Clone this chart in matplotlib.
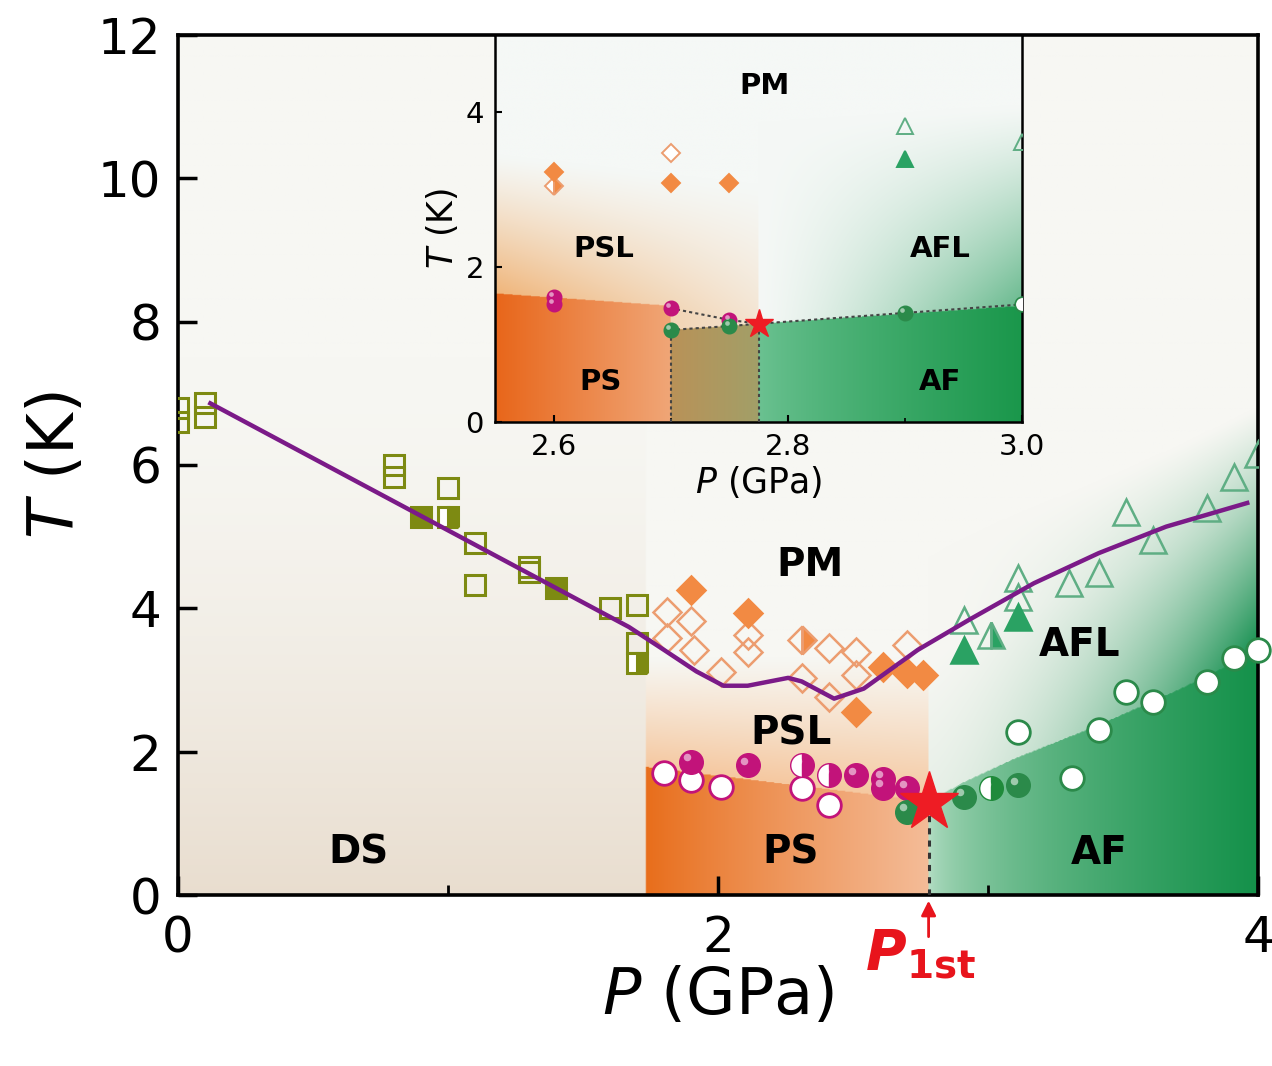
import numpy as np
import matplotlib
matplotlib.use('Agg')
import matplotlib.pyplot as plt
from matplotlib.colors import to_rgb
from matplotlib.transforms import offset_copy

plt.rcParams['font.family'] = ['DejaVu Sans']
plt.rcParams['mathtext.fontset'] = 'dejavusans'

# ---------------- data (main panel) ----------------
ds_open_P = [0.0, 0.0, 0.10, 0.10, 0.80, 0.80, 1.00, 1.10, 1.10, 1.30, 1.30, 1.60, 1.70, 1.70]
ds_open_T = [6.80, 6.60, 6.86, 6.67, 6.00, 5.83, 5.68, 4.91, 4.33, 4.58, 4.50, 4.00, 4.05, 3.52]
ds_full_P = [0.90, 1.40]
ds_full_T = [5.27, 4.28]
ds_half_P = [1.00, 1.70]
ds_half_T = [5.27, 3.24]

dia_open_P = [1.81, 1.90, 1.81, 1.91, 2.01, 2.11, 2.11, 2.41, 2.31, 2.51, 2.41, 2.51, 2.70]
dia_open_T = [3.95, 3.83, 3.58, 3.42, 3.11, 3.63, 3.39, 3.45, 3.03, 3.39, 2.76, 3.07, 3.49]
dia_full_P = [1.90, 2.11, 2.51, 2.61, 2.70, 2.76]
dia_full_T = [4.26, 3.93, 2.55, 3.18, 3.10, 3.07]
dia_half_P = [2.31]
dia_half_T = [3.56]

pk_full_P = [1.90, 2.11, 2.51, 2.61, 2.61, 2.70]
pk_full_T = [1.86, 1.81, 1.67, 1.62, 1.50, 1.49]
pk_open_P = [1.80, 1.90, 2.01, 2.31, 2.41]
pk_open_T = [1.70, 1.60, 1.51, 1.49, 1.26]
pk_half_P = [2.31, 2.41]
pk_half_T = [1.81, 1.67]

gr_full_P = [2.70, 2.91, 3.11]
gr_full_T = [1.16, 1.37, 1.53]
gr_half_P = [3.01]
gr_half_T = [1.49]
gr_open_P = [3.11, 3.31, 3.41, 3.51, 3.61, 3.81, 3.91, 4.00]
gr_open_T = [2.28, 1.63, 2.30, 2.83, 2.69, 2.97, 3.31, 3.42]

tri_full_P = [2.91, 3.11]
tri_full_T = [3.42, 3.88]
tri_half_P = [3.01]
tri_half_T = [3.63]
tri_open_P = [2.91, 3.11, 3.11, 3.30, 3.41, 3.51, 3.61, 3.81, 3.91, 4.00]
tri_open_T = [3.84, 4.16, 4.42, 4.35, 4.49, 5.34, 4.95, 5.40, 5.83, 6.16]

line_P = [0.12, 1.67, 1.80, 1.92, 2.02, 2.11, 2.26, 2.31, 2.43, 2.54, 2.74, 2.93, 3.17, 3.41, 3.66, 3.96]
line_T = [6.86, 3.74, 3.42, 3.12, 2.92, 2.92, 3.03, 2.98, 2.74, 2.88, 3.42, 3.84, 4.35, 4.77, 5.14, 5.47]

star_P, star_T = 2.78, 1.30

# region boundaries (main)
ps_left = 1.73
ps_top_P = [1.73, 2.78]
ps_top_T = [1.78, 1.30]
af_top_P = [2.78, 2.90, 3.10, 3.40, 3.70, 4.00]
af_top_T = [1.30, 1.55, 1.90, 2.35, 2.85, 3.40]

# ---------------- data (inset) ----------------
in_pk_P = [2.60, 2.60, 2.70, 2.75]
in_pk_T = [1.62, 1.52, 1.47, 1.32]
in_gr_P = [2.70, 2.75, 2.90]
in_gr_T = [1.19, 1.24, 1.41]
in_gr_edge_P = [3.00]
in_gr_edge_T = [1.52]
in_star_P, in_star_T = 2.775, 1.27
in_dia_full_P = [2.60, 2.70, 2.75]
in_dia_full_T = [3.23, 3.09, 3.09]
in_dia_half_P = [2.60]
in_dia_half_T = [3.05]
in_dia_open_P = [2.70]
in_dia_open_T = [3.47]
in_tri_full_P = [2.90]
in_tri_full_T = [3.40]
in_tri_open_P = [2.90, 3.00]
in_tri_open_T = [3.83, 3.62]

in_ps_top_P = [2.55, 2.70]
in_ps_top_T = [1.66, 1.50]
in_mid_top_P = [2.70, 2.75, 2.775]
in_mid_top_T = [1.19, 1.24, 1.27]
in_af_top_P = [2.775, 3.00]
in_af_top_T = [1.27, 1.50]

# ---------------- helpers ----------------
def lerp(c1, c2, f):
    c1 = np.array(to_rgb(c1)); c2 = np.array(to_rgb(c2))
    f = np.asarray(f)[..., None]
    return c1 * (1 - f) + c2 * f


def main_background():
    P, T = np.meshgrid(np.linspace(0, 4, 700), np.linspace(0, 12, 900))
    base = '#f7f7f3'
    img = np.ones(P.shape + (3,)) * np.array(to_rgb(base))
    # DS
    f = np.clip(1 - T / 7.5, 0, 1) ** 1.6 * 0.95
    ds = P < ps_left
    img[ds] = lerp(base, '#e8dccd', f)[ds]
    # PS / PSL
    tps = np.interp(P, ps_top_P, ps_top_T)
    mid = (P >= ps_left) & (P < star_P)
    ps = mid & (T <= tps)
    fx = np.clip((P - ps_left) / (star_P - ps_left), 0, 1) ** 0.9
    img[ps] = lerp('#e86d1a', '#f4bc98', fx)[ps]
    psl = mid & (T > tps)
    fp = np.clip(1 - (T - tps) / (3.3 - tps), 0, 1) ** 1.1
    img[psl] = lerp(base, '#f5c8a0', fp)[psl]
    # AF / AFL
    taf = np.interp(P, af_top_P, af_top_T)
    right = P >= star_P
    af = right & (T <= taf)
    fa = np.clip((P - star_P) / (4 - star_P), 0, 1) ** 0.55
    img[af] = lerp('#b9e0c8', '#14914a', fa)[af]
    afl = right & (T > taf)
    g = (np.clip((P - star_P) / (4 - star_P), 0, 1) ** 1.7 *
         np.clip(1 - (T - taf) / 3.4, 0, 1) ** 1.1)
    g = np.clip(g + 0.08 * np.clip(1 - (T - taf) / 2.0, 0, 1), 0, 1)
    img[afl] = lerp(base, '#23965a', g)[afl]
    return img


def inset_background():
    P, T = np.meshgrid(np.linspace(2.55, 3.0, 600), np.linspace(0, 5, 600))
    base = '#f5f8f6'
    img = np.ones(P.shape + (3,)) * np.array(to_rgb(base))
    tps = np.interp(P, in_ps_top_P, in_ps_top_T)
    tmid = np.interp(P, in_mid_top_P, in_mid_top_T)
    taf = np.interp(P, in_af_top_P, in_af_top_T)
    # PSL (upper-left), smooth lower reference
    left = P < in_star_P
    tb = np.interp(P, [in_ps_top_P[0], in_star_P], [in_ps_top_T[0], in_star_T])
    fp = (np.clip(1 - (T - tb) / 1.8, 0, 1) ** 1.2 *
          np.clip(1 - (P - 2.55) / 0.32, 0.3, 1))
    img[left] = lerp(base, '#f0b57a', fp)[left]
    ps = (P < 2.70) & (T <= tps)
    img[ps] = lerp('#e8661a', '#f0a677', (P - 2.55) / 0.15)[ps]
    md = (P >= 2.70) & (P < in_star_P) & (T <= tmid)
    img[md] = lerp('#b99258', '#a29f68', (P - 2.70) / 0.075)[md]
    # AFL / AF
    right = P >= in_star_P
    g = (np.clip((P - in_star_P) / (3.0 - in_star_P), 0, 1) ** 1.3 *
         np.clip(1 - (T - taf) / 2.6, 0, 1) ** 1.2) * 0.75
    img[right] = lerp(base, '#3aa56c', g)[right]
    af = right & (T <= taf)
    fa = np.clip((P - in_star_P) / (3.0 - in_star_P), 0, 1) ** 0.8
    img[af] = lerp('#6cc292', '#1a974b', fa)[af]
    return img


fig = plt.figure(figsize=(12.72, 10.66), dpi=100)
fig.patch.set_facecolor('white')
ax = fig.add_axes([0.1399, 0.1604, 0.8491, 0.8068])

ax.imshow(main_background(), extent=[0, 4, 0, 12], origin='lower', aspect='auto',
          interpolation='bilinear', zorder=0)
ax.set_xlim(0, 4)
ax.set_ylim(0, 12)

olive = '#7d8a12'
orange = '#f28a43'
orange_e = '#ec9d70'
pink = '#c2137a'
green_s = '#2b8a4a'
green_t = '#2aa263'
green_te = '#5fae84'


def spheres(a, P, T, color, ms, z=6, fs='full', alt='white'):
    a.plot(P, T, 'o', ls='none', ms=ms, mfc=color, mec=color, mew=1.0,
           fillstyle=fs, markerfacecoloralt=alt, zorder=z, clip_on=False)
    tr = offset_copy(a.transData, fig=fig, x=-ms * 0.17, y=ms * 0.2, units='points')
    a.plot(P, T, 'o', ls='none', ms=ms * 0.32, mfc=(1, 1, 1, 0.55), mec='none',
           transform=tr, zorder=z + 0.1, clip_on=False)


# squares
ax.plot(ds_open_P, ds_open_T, 's', ls='none', ms=15, mfc='none', mec=olive, mew=2.2, zorder=5)
ax.plot(ds_full_P, ds_full_T, 's', ls='none', ms=15, mfc=olive, mec=olive, mew=2.2, zorder=5)
ax.plot(ds_half_P, ds_half_T, 's', ls='none', ms=15, fillstyle='right', mfc=olive,
        markerfacecoloralt='white', mec=olive, mew=2.2, zorder=5)
# diamonds
ax.plot(dia_open_P, dia_open_T, 'D', ls='none', ms=14, mfc='none', mec=orange_e, mew=1.8, zorder=5)
ax.plot(dia_full_P, dia_full_T, 'D', ls='none', ms=14, mfc=orange, mec=orange, mew=1.8, zorder=5)
ax.plot(dia_half_P, dia_half_T, 'D', ls='none', ms=14, fillstyle='right', mfc=orange,
        markerfacecoloralt='none', mec=orange_e, mew=1.8, zorder=5)
# triangles
ax.plot(tri_open_P, tri_open_T, '^', ls='none', ms=19, mfc='none', mec=green_te, mew=1.8, zorder=5)
ax.plot(tri_full_P, tri_full_T, '^', ls='none', ms=19, mfc=green_t, mec=green_t, mew=1.8, zorder=5)
ax.plot(tri_half_P, tri_half_T, '^', ls='none', ms=19, fillstyle='right', mfc=green_t,
        markerfacecoloralt='none', mec=green_te, mew=1.8, zorder=5)
# purple line
ax.plot(line_P, line_T, '-', color='#7b1a88', lw=3.2, zorder=7)
# circles
ax.plot(pk_open_P, pk_open_T, 'o', ls='none', ms=17, mfc='white', mec=pink, mew=2, zorder=6)
ax.plot(gr_open_P, gr_open_T, 'o', ls='none', ms=17, mfc='white', mec=green_s, mew=2,
        zorder=6, clip_on=False)
spheres(ax, pk_full_P, pk_full_T, pink, 17)
spheres(ax, pk_half_P, pk_half_T, pink, 17, fs='right')
spheres(ax, gr_full_P, gr_full_T, green_s, 17)
spheres(ax, gr_half_P, gr_half_T, '#1f8a3a', 17, fs='right')
# dotted line + star
ax.plot([star_P, star_P], [0, star_T], ls=(0, (2, 2)), color='#333333', lw=2.2, zorder=6)
ax.plot([star_P], [star_T], '*', ms=44, color='#ee1c24', mec='#ee1c24', zorder=9)

# region labels
lab = dict(fontsize=28, fontweight='bold', ha='center', va='center', zorder=8)
ax.text(2.34, 4.6, 'PM', **lab)
ax.text(2.27, 2.26, 'PSL', **lab)
ax.text(2.27, 0.59, 'PS', **lab)
ax.text(0.67, 0.59, 'DS', **lab)
ax.text(3.34, 3.49, 'AFL', **lab)
ax.text(3.41, 0.59, 'AF', **lab)

# axes styling
ax.set_xticks([0, 2, 4])
ax.set_xticks([1, 3], minor=True)
ax.set_yticks(range(0, 13, 2))
ax.tick_params(which='major', direction='in', length=14, width=2.5, labelsize=36, pad=12)
ax.tick_params(which='minor', direction='in', length=7, width=2, bottom=True)
ax.tick_params(axis='x', pad=14)
for s in ax.spines.values():
    s.set_linewidth(2.6)
ax.set_xlabel('$P$ (GPa)', fontsize=46, labelpad=2)
ax.set_ylabel('$T$ (K)', fontsize=46, labelpad=8)

# P_1st annotation
red = '#e8141c'
ax.annotate('', xy=(star_P, -0.04), xytext=(star_P, -0.62), xycoords='data',
            arrowprops=dict(arrowstyle='-|>', color=red, lw=2, mutation_scale=22),
            annotation_clip=False)
ax.text(star_P - 0.03, -0.82, '$\\mathbfit{P}_{\\mathbf{1st}}$', color=red, fontsize=40,
        ha='center', va='center', clip_on=False, zorder=10)

# ---------------- inset ----------------
ins = fig.add_axes([0.3892, 0.6041, 0.4143, 0.3630])
ins.imshow(inset_background(), extent=[2.55, 3.0, 0, 5], origin='lower', aspect='auto',
           interpolation='bilinear', zorder=0)
ins.set_xlim(2.55, 3.0)
ins.set_ylim(0, 5)

# dotted lines
dl = dict(ls=(0, (1.5, 1.5)), color='#444444', lw=1.5, zorder=4)
ins.plot([in_gr_P[0], in_gr_P[0]], [0, in_gr_T[0]], **dl)
ins.plot([in_star_P, in_star_P], [0, in_star_T], **dl)
ins.plot(in_pk_P[2:] + [in_star_P], in_pk_T[2:] + [in_star_T], **dl)
ins.plot(in_gr_P[:2] + [in_star_P] + in_gr_P[2:] + in_gr_edge_P,
         in_gr_T[:2] + [in_star_T] + in_gr_T[2:] + in_gr_edge_T, **dl)

spheres(ins, in_pk_P, in_pk_T, pink, 10.5)
spheres(ins, in_gr_P, in_gr_T, green_s, 10.5)
ins.plot(in_gr_edge_P, in_gr_edge_T, 'o', ls='none', ms=10.5, mfc='white', mec=green_s,
         mew=1.2, zorder=6, clip_on=True)
ins.plot([in_star_P], [in_star_T], '*', ms=21, color='#ee1c24', zorder=9)

ins.plot(in_dia_open_P, in_dia_open_T, 'D', ls='none', ms=9, mfc='white', mec=orange_e, mew=1.4, zorder=5)
ins.plot(in_dia_half_P, in_dia_half_T, 'D', ls='none', ms=9, fillstyle='right', mfc=orange,
         markerfacecoloralt='white', mec=orange_e, mew=1.4, zorder=5)
ins.plot(in_dia_full_P, in_dia_full_T, 'D', ls='none', ms=9, mfc=orange, mec=orange, mew=1.4, zorder=5)
ins.plot(in_tri_open_P, in_tri_open_T, '^', ls='none', ms=12, mfc='none', mec=green_te, mew=1.4, zorder=5)
ins.plot(in_tri_full_P, in_tri_full_T, '^', ls='none', ms=12, mfc=green_t, mec=green_t, mew=1.4, zorder=5)

ilab = dict(fontsize=21, fontweight='bold', ha='center', va='center', zorder=8)
ins.text(2.78, 4.34, 'PM', **ilab)
ins.text(2.643, 2.23, 'PSL', **ilab)
ins.text(2.93, 2.23, 'AFL', **ilab)
ins.text(2.64, 0.52, 'PS', **ilab)
ins.text(2.93, 0.52, 'AF', **ilab)

ins.set_xticks([2.6, 2.8, 3.0])
ins.set_xticklabels(['2.6', '2.8', '3.0'])
ins.set_xticks([2.7, 2.9], minor=True)
ins.set_yticks([0, 2, 4])
ins.tick_params(which='major', direction='in', length=5, width=1.5, labelsize=21, pad=8)
ins.tick_params(which='minor', direction='in', length=3, width=1.2)
for s in ins.spines.values():
    s.set_linewidth(1.8)
ins.set_xlabel('$P$ (GPa)', fontsize=25, labelpad=2)
ins.set_ylabel('$T$ (K)', fontsize=25, labelpad=4)

fig.savefig('out.png', dpi=100, facecolor='white')
